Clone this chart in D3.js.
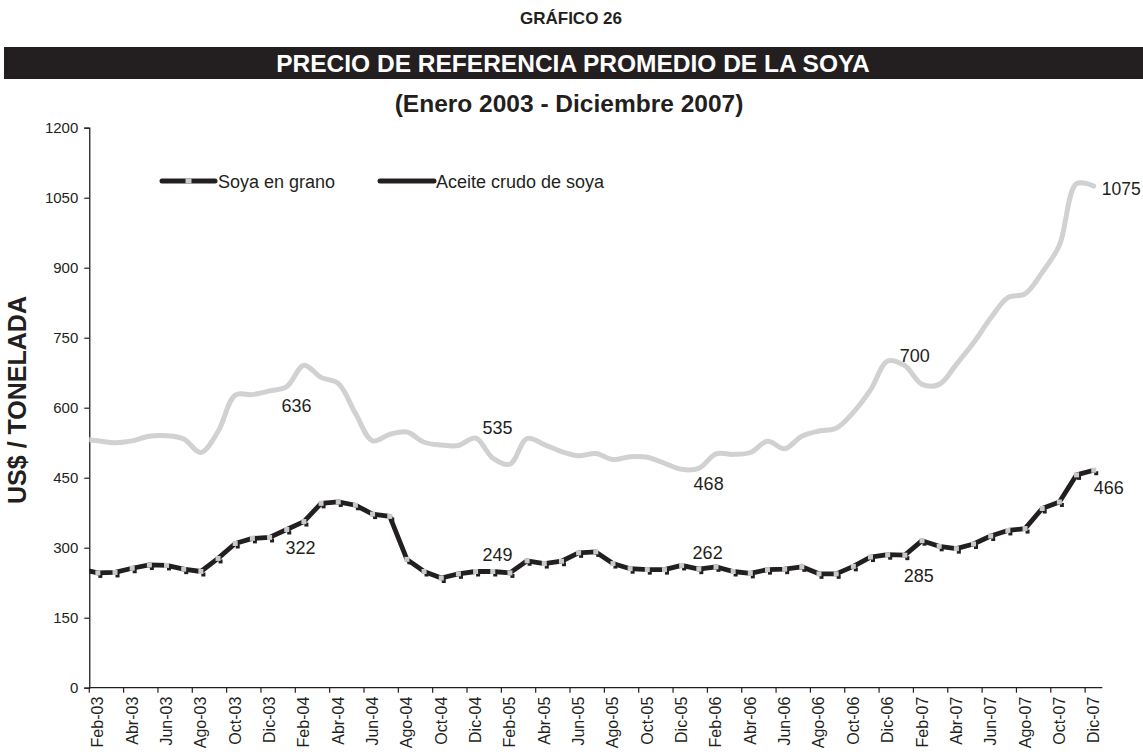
<!DOCTYPE html>
<html>
<head>
<meta charset="utf-8">
<script src="https://cdn.jsdelivr.net/npm/d3@7/dist/d3.min.js"></script>
<style>
  html, body { margin: 0; padding: 0; background: #fff; }
  svg { display: block; font-family: "Liberation Sans", Arial, sans-serif; }
</style>
</head>
<body>
<svg id="chart" width="1143" height="754"></svg>
<script>
// ---------- DATA ----------
const categories = [
  "Ene-03","Feb-03","Mar-03","Abr-03","May-03","Jun-03","Jul-03","Ago-03","Sep-03","Oct-03","Nov-03","Dic-03",
  "Ene-04","Feb-04","Mar-04","Abr-04","May-04","Jun-04","Jul-04","Ago-04","Sep-04","Oct-04","Nov-04","Dic-04",
  "Ene-05","Feb-05","Mar-05","Abr-05","May-05","Jun-05","Jul-05","Ago-05","Sep-05","Oct-05","Nov-05","Dic-05",
  "Ene-06","Feb-06","Mar-06","Abr-06","May-06","Jun-06","Jul-06","Ago-06","Sep-06","Oct-06","Nov-06","Dic-06",
  "Ene-07","Feb-07","Mar-07","Abr-07","May-07","Jun-07","Jul-07","Ago-07","Sep-07","Oct-07","Nov-07","Dic-07"
];
const xTickLabels = ["Feb-03","Abr-03","Jun-03","Ago-03","Oct-03","Dic-03","Feb-04","Abr-04","Jun-04","Ago-04","Oct-04","Dic-04",
  "Feb-05","Abr-05","Jun-05","Ago-05","Oct-05","Dic-05","Feb-06","Abr-06","Jun-06","Ago-06","Oct-06","Dic-06",
  "Feb-07","Abr-07","Jun-07","Ago-07","Oct-07","Dic-07"];
const yTicks = [0, 150, 300, 450, 600, 750, 900, 1050, 1200];

// Soya en grano (US$/t)
const soyaGrano = [
  254, 246, 247, 256, 263, 262, 254, 249, 277, 309, 320, 322,
  339, 356, 395, 398, 391, 372, 367, 275, 249, 235, 244, 249,
  249, 246, 272, 266, 271, 289, 291, 266, 255, 253, 253, 262,
  254, 259, 249, 245, 253, 254, 259, 244, 244, 260, 280, 285,
  284, 315, 303, 298, 308, 325, 337, 341, 384, 398, 456, 466
];
// Aceite crudo de soya (US$/t)
const aceiteCrudo = [
  534, 529, 525, 529, 539, 540, 533, 504, 549, 627, 628, 636,
  645, 691, 665, 652, 588, 529, 543, 548, 526, 520, 519, 535,
  492, 479, 534, 521, 506, 497, 502, 489, 495, 494, 481, 468,
  470, 501, 500, 504, 528, 512, 539, 550, 556, 590, 638, 700,
  690, 650, 650, 693, 739, 792, 836, 844, 890, 948, 1080, 1075
];
const seriesNames = ["Soya en grano", "Aceite crudo de soya"];
// data labels: [series, month]
const labelPoints = [
  ["aceite","Dic-03"], ["soya","Dic-03"],
  ["aceite","Dic-04"], ["soya","Dic-04"],
  ["aceite","Dic-05"], ["soya","Dic-05"],
  ["aceite","Dic-06"], ["soya","Dic-06"],
  ["aceite","Dic-07"], ["soya","Dic-07"]
];

// ---------- LAYOUT ----------
const svg = d3.select("#chart");
const ink = "#231f20";
const x = d3.scaleBand().domain(categories).range([72.1, 1102.3]).padding(0);
const bw = x.bandwidth();
const cx = c => x(c) + bw / 2;
const y = d3.scaleLinear().domain([0, 1200]).range([687.7, 127.7]);
const axisX = x(categories[1]);   // y-axis sits at boundary before Feb-03

// Titles
svg.append("text").attr("x", 571).attr("y", 24).attr("text-anchor", "middle")
  .attr("font-size", 17).attr("font-weight", "bold").attr("fill", ink).text("GRÁFICO 26");
svg.append("rect").attr("x", 4).attr("y", 47).attr("width", 1139).attr("height", 32).attr("fill", ink);
svg.append("text").attr("x", 573).attr("y", 72).attr("text-anchor", "middle")
  .attr("font-size", 24.5).attr("font-weight", "bold").attr("fill", "#fff")
  .text("PRECIO DE REFERENCIA PROMEDIO DE LA SOYA");
svg.append("text").attr("x", 569).attr("y", 112).attr("text-anchor", "middle")
  .attr("font-size", 24.5).attr("font-weight", "bold").attr("fill", ink)
  .text("(Enero 2003 - Diciembre 2007)");

// Y axis title
svg.append("text").attr("transform", "translate(26,400) rotate(-90)")
  .attr("text-anchor", "middle").attr("font-size", 25).attr("font-weight", "bold")
  .attr("fill", ink).text("US$ / TONELADA");

// Y axis
const yAxis = svg.append("g").attr("transform", `translate(${axisX},0)`)
  .call(d3.axisLeft(y).tickValues(yTicks).tickSize(5).tickPadding(6).tickFormat(d3.format("d")));
yAxis.select(".domain").attr("stroke", ink).attr("stroke-width", 1.3);
yAxis.selectAll(".tick line").attr("stroke", ink).attr("stroke-width", 1.2);
yAxis.selectAll(".tick text").attr("font-size", 15).attr("fill", ink)
  .attr("font-family", "Liberation Sans, Arial, sans-serif");

// X axis
const xg = svg.append("g");
xg.append("line").attr("x1", axisX).attr("x2", x.range()[1])
  .attr("y1", y(0)).attr("y2", y(0)).attr("stroke", ink).attr("stroke-width", 1.3);
xg.selectAll("line.tk").data(xTickLabels).join("line").attr("class", "tk")
  .attr("x1", d => x(d)).attr("x2", d => x(d))
  .attr("y1", y(0)).attr("y2", y(0) + 5).attr("stroke", ink).attr("stroke-width", 1.2);
xg.selectAll("text").data(xTickLabels).join("text")
  .attr("transform", d => `translate(${cx(d) + 5.5},${y(0) + 9}) rotate(-90)`)
  .attr("text-anchor", "end").attr("font-size", 16).attr("fill", ink).text(d => d);

// Clip (first month lies left of the y-axis)
svg.append("clipPath").attr("id", "plotClip").append("rect")
  .attr("x", axisX).attr("y", 0).attr("width", 1143 - axisX).attr("height", 754);
const plot = svg.append("g").attr("clip-path", "url(#plotClip)");

// Aceite crudo (smoothed light gray)
const aceiteData = categories.map((c, i) => ({c, v: aceiteCrudo[i]}));
const soyaData = categories.map((c, i) => ({c, v: soyaGrano[i]}));
plot.append("path").datum(aceiteData)
  .attr("d", d3.line().x(d => cx(d.c)).y(d => y(d.v)).curve(d3.curveCatmullRom.alpha(0.5)))
  .attr("fill", "none").attr("stroke", "#d0d1d3").attr("stroke-width", 5)
  .attr("stroke-linejoin", "round").attr("stroke-linecap", "round");

// Soya en grano (black line with gray square markers)
plot.append("path").datum(soyaData)
  .attr("d", d3.line().x(d => cx(d.c)).y(d => y(d.v)))
  .attr("fill", "none").attr("stroke", ink).attr("stroke-width", 4.8)
  .attr("stroke-linejoin", "round");
plot.selectAll("rect.shadow").data(soyaData).join("rect").attr("class", "shadow")
  .attr("x", d => cx(d.c) + 0.5).attr("y", d => y(d.v) + 1)
  .attr("width", 4).attr("height", 4).attr("fill", ink);
plot.selectAll("rect.mk").data(soyaData).join("rect").attr("class", "mk")
  .attr("x", d => cx(d.c) - 2.5).attr("y", d => y(d.v) - 2.5)
  .attr("width", 5).attr("height", 5).attr("fill", "#c8c9cb");

// Data labels
const offsets = {
  "aceite|Dic-03": [27, 21, "middle"], "soya|Dic-03": [31, 17, "middle"],
  "aceite|Dic-04": [22, -4, "middle"], "soya|Dic-04": [22, -11, "middle"],
  "aceite|Dic-05": [27, 20.5, "middle"], "soya|Dic-05": [26, -6, "middle"],
  "aceite|Dic-06": [27, 0.5, "middle"], "soya|Dic-06": [31, 27, "middle"],
  "aceite|Dic-07": [8, 8.5, "start"], "soya|Dic-07": [15, 24, "middle"]
};
svg.selectAll("text.dl").data(labelPoints).join("text").attr("class", "dl")
  .each(function([s, m]) {
    const i = categories.indexOf(m);
    const v = s === "soya" ? soyaGrano[i] : aceiteCrudo[i];
    const o = offsets[s + "|" + m];
    d3.select(this).attr("x", cx(m) + o[0]).attr("y", y(v) + o[1])
      .attr("text-anchor", o[2]).attr("font-size", s + "|" + m === "aceite|Dic-07" ? 17.5 : 18)
      .attr("fill", ink).text(v);
  });

// Legend
const leg = [
  {name: seriesNames[0], x1: 162, x2: 215, tx: 218, marker: true},
  {name: seriesNames[1], x1: 380, x2: 434, tx: 436, marker: false}
];
const lg = svg.append("g");
lg.selectAll("line").data(leg).join("line")
  .attr("x1", d => d.x1).attr("x2", d => d.x2).attr("y1", 181).attr("y2", 181)
  .attr("stroke", ink).attr("stroke-width", 5).attr("stroke-linecap", "round");
lg.selectAll("rect").data(leg.filter(d => d.marker)).join("rect")
  .attr("x", d => (d.x1 + d.x2) / 2 - 3).attr("y", 178.5).attr("width", 6).attr("height", 5)
  .attr("fill", "#c8c9cb");
lg.selectAll("text").data(leg).join("text")
  .attr("x", d => d.tx).attr("y", 187.5).attr("font-size", 18).attr("fill", ink).text(d => d.name);
</script>
</body>
</html>
